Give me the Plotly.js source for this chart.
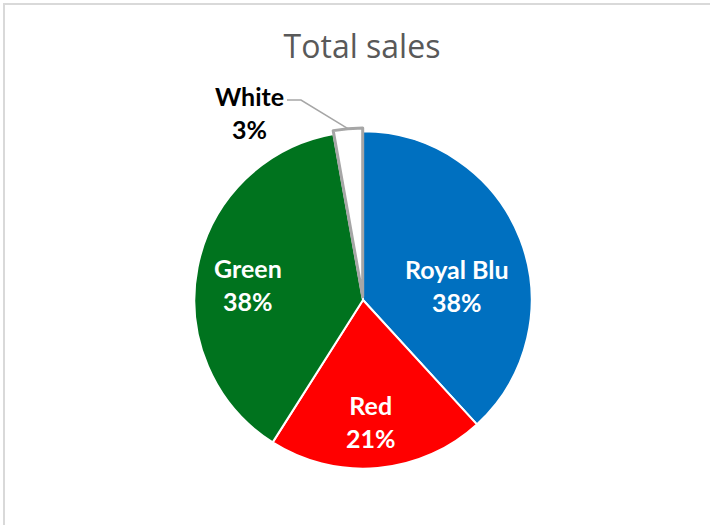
<!DOCTYPE html>
<html><head><meta charset="utf-8">
<script src="https://cdn.plot.ly/plotly-3.0.1.min.js"></script>
<style>
html,body{margin:0;padding:0;background:#fff;overflow:hidden;}
#frame{position:absolute;left:3px;top:3px;width:720px;height:540px;border-left:2px solid #d9d9d9;border-top:2px solid #d9d9d9;}
#chart{position:absolute;left:0;top:0;width:710px;height:525px;}
</style></head>
<body>
<div id="frame"></div>
<div id="chart"></div>
<script>
const categories = ["Royal Blu", "Red", "Green", "White"];
const sales = [38.2, 20.8, 38.2, 2.8];
const sliceColors = ["#0070c0", "#ff0000", "#00731e", "#ffffff"];
const labelColors = ["#ffffff", "#ffffff", "#ffffff", "#000000"];
const titleText = "Total sales";

// layout geometry (pixels)
const W = 710, H = 525;
const M = {l: 16, r: 0, t: 128, b: 53};
const labelCenters = [[457, 285], [371, 421], [248, 284], [249, 113]];
const pullArr = [0, 0, 0, 0.02];

const plotW = W - M.l - M.r, plotH = H - M.t - M.b;
const px2x = p => (p - M.l) / plotW;
const py2y = p => (H - M.b - p) / plotH;

const total = sales.reduce((a, b) => a + b, 0);
const pctText = sales.map(v => Math.round(v / total * 100) + "%");

const trace = {
  type: "pie",
  labels: categories,
  values: sales,
  sort: false,
  direction: "clockwise",
  rotation: 0,
  pull: pullArr,
  marker: {colors: sliceColors, line: {color: ["#ffffff","#ffffff","#ffffff","#a6a6a6"], width: [2,2,2,3]}},
  textinfo: "none",
  hoverinfo: "none",
  showlegend: false
};

const annotations = categories.map((c, i) => ({
  xref: "paper", yref: "paper",
  x: px2x(labelCenters[i][0]), y: py2y(labelCenters[i][1]),
  xanchor: "center", yanchor: "middle",
  text: "<b>" + c + "</b><br><b>" + pctText[i] + "</b>",
  showarrow: false,
  font: {family: "Lato, 'Open Sans', sans-serif", size: 25, color: labelColors[i]}
}));

// leader line to the White slice, end point from slice geometry
const cx = M.l + plotW / 2, cy = M.t + plotH / 2;
const R = Math.min(plotW, plotH) / 2 / (1 + Math.max(...pullArr));
const wi = 3;
const startFrac = sales.slice(0, wi).reduce((a, b) => a + b, 0) / total;
const midAng = (startFrac + sales[wi] / total / 2) * 2 * Math.PI;
const rEnd = R * (1 + pullArr[wi]);
const ex = cx + rEnd * Math.sin(midAng), ey = cy - rEnd * Math.cos(midAng);
const leader = {
  type: "path", xref: "paper", yref: "paper",
  path: "M " + px2x(287) + " " + py2y(100) + " L " + px2x(301) + " " + py2y(100) + " L " + px2x(ex) + " " + py2y(ey),
  line: {color: "#a6a6a6", width: 1.5}
};

const layout = {
  width: W, height: H,
  margin: M,
  paper_bgcolor: "rgba(0,0,0,0)",
  plot_bgcolor: "rgba(0,0,0,0)",
  title: {text: titleText, font: {family: "'Open Sans', sans-serif", size: 32, color: "#595959"},
          x: 362 / W, xanchor: "center", xref: "container",
          yref: "container", y: 1 - 47 / H, yanchor: "middle"},
  annotations: annotations,
  shapes: [leader],
  showlegend: false
};
Plotly.newPlot("chart", [trace], layout, {displayModeBar: false, staticPlot: true});
</script>
</body></html>
